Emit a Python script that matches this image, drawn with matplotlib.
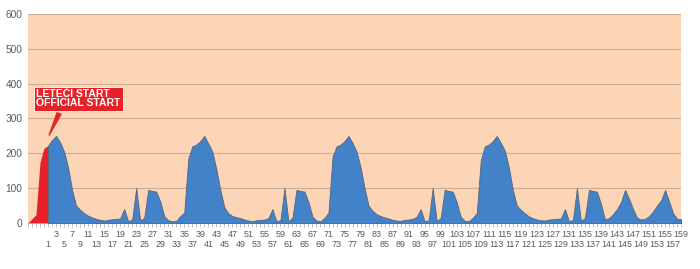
import matplotlib.pyplot as plt
import numpy as np

plt.rcParams['font.family'] = ['Liberation Sans', 'DejaVu Sans']

# values before the official start (unlabelled categories)
lead_in = [0, 12, 24, 175, 215]

# values for categories 1..159
counts = [
    222, 238, 250, 232, 205, 160, 95, 50, 38, 28,
    21, 16, 12, 9, 7, 9, 11, 12, 13, 40,
    5, 10, 100, 7, 15, 95, 92, 90, 62, 20,
    8, 5, 6, 20, 30, 185, 220, 225, 235, 250,
    228, 205, 155, 95, 45, 28, 20, 17, 14, 10,
    7, 5, 8, 9, 10, 14, 40, 5, 8, 100,
    5, 15, 95, 92, 90, 60, 18, 7, 5, 15,
    30, 190, 220, 225, 235, 250, 230, 205, 160, 100,
    50, 35, 25, 20, 16, 13, 9, 7, 6, 9,
    10, 12, 18, 40, 5, 8, 100, 5, 15, 95,
    92, 90, 60, 18, 6, 5, 15, 28, 180, 220,
    225, 235, 250, 230, 208, 160, 95, 50, 38, 28,
    19, 14, 10, 8, 7, 10, 11, 12, 13, 40,
    5, 9, 100, 5, 15, 95, 92, 90, 55, 10,
    14, 25, 40, 60, 95, 70, 40, 15, 10, 12,
    20, 33, 50, 65, 95, 62, 28, 12, 11,
]

categories = [''] * len(lead_in) + [str(c) for c in range(1, len(counts) + 1)]
y_ticks = [0, 100, 200, 300, 400, 500, 600]

idx = np.arange(len(categories))
n0 = len(lead_in)

fig = plt.figure(figsize=(7, 2.69), dpi=100)
ax = fig.add_axes([0.040, 0.171, 0.933, 0.777])
ax.set_facecolor('#FBD5B5')

for t in y_ticks[1:]:
    ax.axhline(t, color='#CDAE95', linewidth=0.8, zorder=1)

red_vals = lead_in + [counts[0]]
ax.fill_between(idx[:n0 + 1], red_vals, color='#E82128', linewidth=0, zorder=2)
ax.fill_between(idx[n0:], counts, color='#4282C9', edgecolor='#55667A',
                linewidth=0.6, zorder=3)

ax.set_xlim(0, len(categories) - 1)
ax.set_ylim(0, 600)
ax.set_yticks(y_ticks)
ax.set_yticklabels([str(t) for t in y_ticks], fontsize=7.3, color='#595959')

# tick marks at every category, labels drawn in two staggered rows
ax.set_xticks(idx)
ax.set_xticklabels([])
ax.tick_params(axis='x', length=3, width=0.5, color='#A6A6A6')
ax.tick_params(axis='y', length=0, pad=4)

for i, c in enumerate(categories):
    if c == '' or int(c) % 2 == 0:
        continue
    row = 0 if int(c) % 4 == 3 else 1
    ax.annotate(c, xy=(i, 0), xycoords=('data', 'axes fraction'),
                xytext=(0, -5 - row * 7.5), textcoords='offset points',
                ha='center', va='top', fontsize=6.4, color='#595959')

for s in ['top', 'right', 'left']:
    ax.spines[s].set_visible(False)
ax.spines['bottom'].set_color('#A6A6A6')
ax.spines['bottom'].set_linewidth(0.6)

ax.annotate('LETEČI START\nOFFICIAL START', xy=(n0, 245), xytext=(2.0, 357),
            ha='left', va='center', fontsize=7.5, fontweight='bold', color='white',
            linespacing=0.95, zorder=5,
            bbox=dict(boxstyle='square,pad=0.22', fc='#E82128', ec='white', lw=0.6),
            arrowprops=dict(arrowstyle='wedge,tail_width=0.4,shrink_factor=0.5',
                            color='#E82128', relpos=(0.3, 0.0)))

fig.savefig('out.png', dpi=100)
